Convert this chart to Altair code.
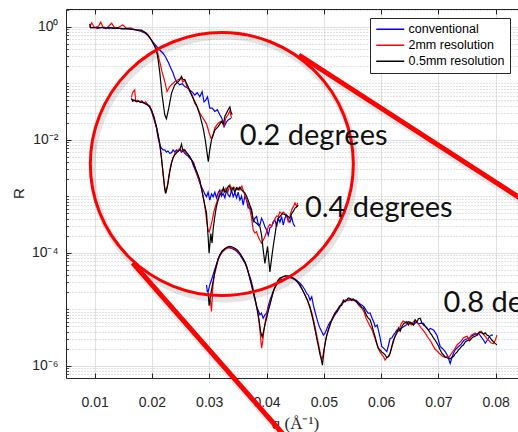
import altair as alt
import pandas as pd

SERIES = ["conventional", "2mm resolution", "0.5mm resolution"]
COLORS = ["#0000ff", "#ff0000", "#000000"]

# (q [1/A], log10 R)
conv_02 = [(0.00913,-0.01),(0.00965,-0.02),(0.01035,-0.01),(0.01105,-0.02),(0.01175,-0.01),(0.01245,-0.03),(0.01315,-0.02),(0.01385,-0.03),(0.01455,-0.03),(0.01524,-0.04),(0.01594,-0.04),(0.01664,-0.05),(0.01734,-0.06),(0.01804,-0.08),(0.01874,-0.11),(0.01932,-0.16),(0.01991,-0.24),(0.02049,-0.31),(0.02107,-0.38),(0.02154,-0.43),(0.02194,-0.47),(0.02241,-0.54),(0.02281,-0.62),(0.02329,-0.73),(0.02369,-0.82),(0.02399,-0.91),(0.02428,-0.97),(0.02486,-1.03),(0.02530,-1.01),(0.02573,-1.06),(0.02617,-1.08),(0.02661,-1.12),(0.02705,-1.16),(0.02748,-1.21),(0.02792,-1.17),(0.02836,-1.24),(0.02876,-1.15),(0.02911,-1.33),(0.02941,-1.30),(0.02970,-1.24),(0.03010,-1.44),(0.03054,-1.44),(0.03098,-1.50),(0.03142,-1.47),(0.03185,-1.56),(0.03220,-1.62),(0.03260,-1.77),(0.03299,-1.69),(0.03330,-1.65),(0.03378,-1.62)]
res2_02 = [(0.00913,-0.01),(0.00948,0.07),(0.01000,-0.02),(0.01070,0.01),(0.01105,0.08),(0.01157,-0.03),(0.01227,-0.01),(0.01297,0.06),(0.01350,-0.02),(0.01420,-0.01),(0.01490,0.03),(0.01559,-0.03),(0.01629,-0.02),(0.01699,-0.05),(0.01769,-0.06),(0.01839,-0.08),(0.01904,-0.11),(0.01962,-0.19),(0.02019,-0.29),(0.02079,-0.38),(0.02136,-0.62),(0.02177,-0.80),(0.02224,-0.97),(0.02264,-1.15),(0.02311,-1.06),(0.02369,-1.00),(0.02416,-0.96),(0.02456,-0.94),(0.02516,-0.91),(0.02538,-0.98),(0.02573,-0.94),(0.02608,-1.05),(0.02661,-1.15),(0.02705,-1.21),(0.02748,-1.36),(0.02792,-1.42),(0.02836,-1.53),(0.02893,-1.62),(0.02953,-1.72),(0.02993,-1.86),(0.03028,-1.97),(0.03063,-1.94),(0.03098,-1.79),(0.03156,-1.71),(0.03215,-1.67),(0.03255,-1.76),(0.03290,-1.62),(0.03330,-1.56),(0.03360,-1.49),(0.03390,-1.62)]
res05_02 = [(0.00913,0.05),(0.00930,-0.02),(0.00983,-0.01),(0.01052,-0.03),(0.01122,-0.01),(0.01192,-0.03),(0.01262,-0.01),(0.01332,-0.03),(0.01402,-0.02),(0.01472,-0.04),(0.01542,-0.03),(0.01612,-0.04),(0.01682,-0.05),(0.01752,-0.06),(0.01816,-0.06),(0.01874,-0.10),(0.01932,-0.15),(0.01991,-0.235),(0.02049,-0.35),(0.02096,-0.50),(0.02136,-0.80),(0.02177,-1.21),(0.02224,-1.56),(0.02253,-1.63),(0.02294,-1.44),(0.02341,-1.18),(0.02399,-1.03),(0.02451,-0.98),(0.02486,-0.94),(0.02516,-0.88),(0.02538,-0.93),(0.02573,-0.94),(0.02631,-1.06),(0.02691,-1.21),(0.02778,-1.39),(0.02836,-1.56),(0.02893,-1.79),(0.02932,-2.01),(0.02967,-2.27),(0.02984,-2.39),(0.03010,-2.18),(0.03040,-2.00),(0.03098,-1.83),(0.03156,-1.77),(0.03215,-1.68),(0.03247,-1.72),(0.03273,-1.59),(0.03330,-1.47),(0.03360,-1.42),(0.03378,-1.50),(0.03400,-1.56)]

conv_04 = [(0.01642,-1.28),(0.01682,-1.30),(0.01717,-1.32),(0.01752,-1.31),(0.01787,-1.33),(0.01822,-1.34),(0.01857,-1.35),(0.01892,-1.37),(0.01927,-1.39),(0.01962,-1.42),(0.01997,-1.51),(0.02031,-1.62),(0.02079,-1.79),(0.02107,-1.97),(0.02136,-2.09),(0.02166,-2.15),(0.02194,-2.18),(0.02224,-2.18),(0.02253,-2.22),(0.02281,-2.20),(0.02311,-2.24),(0.02341,-2.23),(0.02369,-2.18),(0.02399,-2.22),(0.02428,-2.18),(0.02456,-2.20),(0.02486,-2.18),(0.02516,-2.22),(0.02544,-2.20),(0.02573,-2.24),(0.02603,-2.27),(0.02631,-2.29),(0.02661,-2.33),(0.02691,-2.36),(0.02719,-2.45),(0.02748,-2.52),(0.02778,-2.60),(0.02806,-2.68),(0.02836,-2.77),(0.02866,-2.84),(0.02893,-2.89),(0.02923,-2.96),(0.02953,-3.01),(0.02981,-2.93),(0.03010,-3.07),(0.03040,-2.96),(0.03068,-3.01),(0.03098,-2.93),(0.03127,-3.03),(0.03156,-2.94),(0.03185,-2.89),(0.03215,-3.00),(0.03243,-2.95),(0.03273,-3.03),(0.03303,-2.89),(0.03330,-2.98),(0.03360,-3.01),(0.03390,-2.89),(0.03418,-3.01),(0.03448,-2.94),(0.03477,-3.03),(0.03505,-2.93),(0.03535,-3.07),(0.03565,-3.00),(0.03593,-3.16),(0.03622,-3.00),(0.03652,-3.07),(0.03680,-3.21),(0.03710,-3.19),(0.03740,-3.28),(0.03768,-3.45),(0.03797,-3.39),(0.03827,-3.36),(0.03855,-3.49),(0.03885,-3.51),(0.03914,-3.39),(0.03942,-3.45),(0.03972,-3.54),(0.04002,-3.60),(0.04031,-3.69),(0.04059,-3.56),(0.04089,-3.54),(0.04117,-3.45),(0.04147,-3.42),(0.04177,-3.54),(0.04205,-3.39),(0.04234,-3.46),(0.04264,-3.36),(0.04292,-3.51),(0.04322,-3.39),(0.04351,-3.33),(0.04379,-3.42),(0.04409,-3.46),(0.04439,-3.37),(0.04467,-3.49),(0.04497,-3.54)]
res2_04 = [(0.01642,-1.25),(0.01664,-1.16),(0.01699,-1.12),(0.01717,-1.32),(0.01752,-1.30),(0.01787,-1.33),(0.01822,-1.31),(0.01857,-1.35),(0.01892,-1.33),(0.01927,-1.38),(0.01962,-1.40),(0.01997,-1.49),(0.02031,-1.60),(0.02079,-1.78),(0.02107,-1.90),(0.02136,-2.08),(0.02166,-2.32),(0.02194,-2.57),(0.02224,-2.86),(0.02246,-2.93),(0.02271,-2.82),(0.02294,-2.64),(0.02329,-2.45),(0.02364,-2.33),(0.02399,-2.25),(0.02442,-2.20),(0.02486,-2.16),(0.02521,-2.20),(0.02556,-2.18),(0.02591,-2.24),(0.02626,-2.25),(0.02661,-2.31),(0.02696,-2.36),(0.02731,-2.41),(0.02766,-2.55),(0.02801,-2.64),(0.02836,-2.75),(0.02871,-2.89),(0.02906,-3.07),(0.02932,-3.24),(0.02958,-3.46),(0.02981,-3.60),(0.03002,-3.63),(0.03028,-3.53),(0.03054,-3.42),(0.03080,-3.28),(0.03115,-3.16),(0.03150,-3.05),(0.03185,-2.94),(0.03220,-2.89),(0.03255,-2.91),(0.03290,-2.86),(0.03325,-2.93),(0.03360,-2.80),(0.03395,-2.87),(0.03430,-2.84),(0.03465,-2.89),(0.03500,-2.85),(0.03535,-2.89),(0.03570,-2.82),(0.03605,-2.93),(0.03631,-3.01),(0.03657,-3.07),(0.03683,-3.14),(0.03710,-3.24),(0.03740,-3.39),(0.03768,-3.60),(0.03797,-3.65),(0.03827,-3.63),(0.03855,-3.72),(0.03885,-3.78),(0.03914,-3.83),(0.03942,-3.78),(0.03972,-3.72),(0.04002,-3.63),(0.04031,-3.54),(0.04059,-3.50),(0.04089,-3.53),(0.04117,-3.48),(0.04147,-3.40),(0.04177,-3.35),(0.04205,-3.36),(0.04234,-3.28),(0.04264,-3.31),(0.04292,-3.28),(0.04322,-3.31),(0.04351,-3.35),(0.04379,-3.45),(0.04409,-3.35),(0.04439,-3.24),(0.04467,-3.19),(0.04497,-3.12),(0.04526,-3.19),(0.04544,-3.12)]
res05_04 = [(0.01642,-1.27),(0.01664,-1.32),(0.01699,-1.30),(0.01734,-1.33),(0.01769,-1.32),(0.01804,-1.34),(0.01839,-1.33),(0.01874,-1.36),(0.01909,-1.37),(0.01944,-1.40),(0.01991,-1.47),(0.02031,-1.58),(0.02079,-1.77),(0.02107,-1.92),(0.02136,-2.06),(0.02166,-2.32),(0.02194,-2.60),(0.02215,-2.80),(0.02236,-2.95),(0.02259,-2.87),(0.02281,-2.77),(0.02311,-2.57),(0.02341,-2.42),(0.02369,-2.32),(0.02399,-2.27),(0.02442,-2.22),(0.02486,-2.18),(0.02516,-2.08),(0.02538,-2.18),(0.02573,-2.18),(0.02617,-2.24),(0.02661,-2.30),(0.02705,-2.38),(0.02748,-2.48),(0.02792,-2.59),(0.02836,-2.71),(0.02893,-3.01),(0.02923,-3.16),(0.02953,-3.30),(0.02981,-3.72),(0.02998,-4.01),(0.03028,-3.66),(0.03050,-3.83),(0.03071,-3.56),(0.03098,-3.36),(0.03124,-3.19),(0.03156,-3.07),(0.03185,-2.98),(0.03215,-2.95),(0.03247,-2.85),(0.03273,-2.93),(0.03303,-2.89),(0.03334,-2.82),(0.03360,-2.83),(0.03386,-2.91),(0.03418,-2.85),(0.03448,-2.93),(0.03477,-2.85),(0.03505,-2.89),(0.03535,-2.84),(0.03565,-2.89),(0.03593,-2.92),(0.03622,-2.94),(0.03652,-3.00),(0.03680,-3.07),(0.03710,-3.16),(0.03740,-3.24),(0.03768,-3.42),(0.03797,-3.46),(0.03827,-3.48),(0.03855,-3.51),(0.03885,-3.54),(0.03914,-3.69),(0.03942,-3.95),(0.03972,-4.19),(0.03995,-4.04),(0.04019,-3.89),(0.04042,-4.16),(0.04059,-4.34),(0.04089,-4.10),(0.04117,-3.89),(0.04147,-3.69),(0.04177,-3.48),(0.04205,-3.39),(0.04234,-3.36),(0.04278,-3.31),(0.04322,-3.33),(0.04365,-3.35),(0.04409,-3.39),(0.04439,-3.31),(0.04467,-3.27),(0.04497,-3.21),(0.04526,-3.19),(0.04554,-3.16)]

conv_08 = [(0.02953,-4.57),(0.02967,-4.69),(0.02981,-4.69),(0.03010,-4.57),(0.03040,-4.48),(0.03068,-4.39),(0.03098,-4.29),(0.03127,-4.20),(0.03156,-4.11),(0.03185,-4.04),(0.03229,-3.97),(0.03273,-3.93),(0.03317,-3.91),(0.03360,-3.91),(0.03404,-3.93),(0.03448,-3.95),(0.03491,-3.99),(0.03535,-4.04),(0.03579,-4.11),(0.03622,-4.18),(0.03657,-4.27),(0.03692,-4.38),(0.03727,-4.48),(0.03762,-4.62),(0.03797,-4.81),(0.03827,-4.96),(0.03850,-5.01),(0.03885,-5.10),(0.03911,-5.07),(0.03942,-5.16),(0.03972,-5.10),(0.04002,-5.07),(0.04031,-4.94),(0.04059,-4.84),(0.04094,-4.75),(0.04129,-4.66),(0.04164,-4.59),(0.04199,-4.52),(0.04234,-4.48),(0.04278,-4.47),(0.04322,-4.46),(0.04365,-4.45),(0.04409,-4.44),(0.04453,-4.46),(0.04497,-4.47),(0.04541,-4.50),(0.04584,-4.54),(0.04628,-4.59),(0.04672,-4.66),(0.04707,-4.73),(0.04730,-4.75),(0.04760,-4.84),(0.04790,-4.78),(0.04818,-4.93),(0.04848,-5.05),(0.04877,-5.16),(0.04906,-5.26),(0.04935,-5.34),(0.04965,-5.40),(0.04993,-5.46),(0.05023,-5.42),(0.05052,-5.35),(0.05080,-5.28),(0.05108,-5.23),(0.05146,-5.19),(0.05181,-5.12),(0.05216,-5.07),(0.05251,-5.02),(0.05283,-4.96),(0.05318,-4.91),(0.05353,-4.87),(0.05388,-4.85),(0.05423,-4.84),(0.05458,-4.84),(0.05493,-4.82),(0.05528,-4.85),(0.05563,-4.84),(0.05598,-4.87),(0.05633,-4.91),(0.05668,-4.93),(0.05703,-4.96),(0.05738,-5.02),(0.05773,-5.07),(0.05808,-5.07),(0.05843,-5.16),(0.05878,-5.24),(0.05896,-5.31),(0.05931,-5.28),(0.05953,-5.37),(0.05983,-5.51),(0.06012,-5.66),(0.06044,-5.69),(0.06100,-5.75),(0.06131,-5.63),(0.06157,-5.52),(0.06187,-5.51),(0.06215,-5.46),(0.06245,-5.42),(0.06274,-5.37),(0.06302,-5.39),(0.06332,-5.35),(0.06390,-5.31),(0.06437,-5.28),(0.06477,-5.22),(0.06507,-5.24),(0.06565,-5.28),(0.06612,-5.23),(0.06652,-5.26),(0.06682,-5.25),(0.06740,-5.25),(0.06769,-5.30),(0.06827,-5.37),(0.06857,-5.34),(0.06915,-5.37),(0.06944,-5.41),(0.06974,-5.46),(0.07002,-5.55),(0.07031,-5.66),(0.07075,-5.70),(0.07119,-5.75),(0.07163,-5.83),(0.07206,-5.96),(0.07236,-5.86),(0.07264,-5.78),(0.07294,-5.72),(0.07352,-5.66),(0.07399,-5.62),(0.07439,-5.56),(0.07486,-5.53),(0.07527,-5.52),(0.07573,-5.48),(0.07614,-5.46),(0.07661,-5.44),(0.07702,-5.43),(0.07748,-5.49),(0.07789,-5.55),(0.07819,-5.60),(0.07853,-5.55),(0.07888,-5.49),(0.07923,-5.46),(0.07953,-5.46)]
res2_08 = [(0.03019,-4.84),(0.03040,-5.04),(0.03054,-4.77),(0.03068,-4.54),(0.03098,-4.36),(0.03127,-4.24),(0.03156,-4.13),(0.03185,-4.06),(0.03229,-3.99),(0.03273,-3.95),(0.03317,-3.92),(0.03360,-3.91),(0.03404,-3.92),(0.03448,-3.93),(0.03491,-3.97),(0.03535,-4.02),(0.03579,-4.09),(0.03622,-4.17),(0.03652,-4.24),(0.03680,-4.34),(0.03710,-4.47),(0.03740,-4.59),(0.03768,-4.71),(0.03797,-4.82),(0.03827,-4.96),(0.03855,-5.12),(0.03885,-5.37),(0.03914,-5.69),(0.03937,-5.55),(0.03960,-5.33),(0.03990,-5.16),(0.04024,-5.02),(0.04059,-4.91),(0.04094,-4.78),(0.04129,-4.66),(0.04164,-4.57),(0.04199,-4.50),(0.04234,-4.47),(0.04278,-4.43),(0.04322,-4.42),(0.04365,-4.43),(0.04409,-4.44),(0.04453,-4.45),(0.04497,-4.48),(0.04541,-4.52),(0.04584,-4.59),(0.04628,-4.66),(0.04672,-4.75),(0.04716,-4.84),(0.04760,-4.96),(0.04795,-5.08),(0.04830,-5.23),(0.04865,-5.40),(0.04900,-5.58),(0.04935,-5.76),(0.04962,-5.90),(0.04988,-5.81),(0.05014,-5.65),(0.05041,-5.51),(0.05076,-5.37),(0.05108,-5.28),(0.05146,-5.17),(0.05181,-5.10),(0.05216,-5.03),(0.05251,-5.00),(0.05283,-4.94),(0.05318,-4.89),(0.05353,-4.85),(0.05388,-4.83),(0.05423,-4.85),(0.05458,-4.82),(0.05493,-4.85),(0.05528,-4.84),(0.05563,-4.87),(0.05598,-4.91),(0.05633,-4.96),(0.05668,-4.99),(0.05703,-5.05),(0.05738,-5.16),(0.05773,-5.23),(0.05808,-5.30),(0.05843,-5.37),(0.05878,-5.47),(0.05913,-5.58),(0.05948,-5.69),(0.05983,-5.76),(0.06018,-5.81),(0.06052,-5.86),(0.06070,-5.90),(0.06105,-5.85),(0.06140,-5.83),(0.06175,-5.72),(0.06210,-5.60),(0.06245,-5.48),(0.06280,-5.39),(0.06315,-5.37),(0.06350,-5.26),(0.06385,-5.21),(0.06420,-5.23),(0.06455,-5.26),(0.06490,-5.23),(0.06525,-5.28),(0.06559,-5.23),(0.06594,-5.19),(0.06629,-5.23),(0.06664,-5.28),(0.06699,-5.33),(0.06734,-5.37),(0.06769,-5.42),(0.06804,-5.48),(0.06839,-5.53),(0.06874,-5.58),(0.06909,-5.65),(0.06944,-5.71),(0.06979,-5.74),(0.07014,-5.78),(0.07049,-5.81),(0.07084,-5.84),(0.07119,-5.85),(0.07154,-5.83),(0.07189,-5.85),(0.07224,-5.79),(0.07259,-5.74),(0.07294,-5.69),(0.07329,-5.63),(0.07364,-5.60),(0.07399,-5.56),(0.07434,-5.51),(0.07469,-5.49),(0.07504,-5.48),(0.07538,-5.56),(0.07573,-5.46),(0.07608,-5.44),(0.07643,-5.42),(0.07678,-5.46),(0.07713,-5.40),(0.07748,-5.39),(0.07783,-5.44),(0.07818,-5.48),(0.07853,-5.53),(0.07888,-5.56),(0.07923,-5.60),(0.07958,-5.61),(0.07993,-5.55),(0.08023,-5.46)]
res05_08 = [(0.02981,-4.70),(0.02998,-4.94),(0.03019,-4.78),(0.03040,-4.66),(0.03068,-4.51),(0.03098,-4.34),(0.03127,-4.22),(0.03156,-4.11),(0.03185,-4.04),(0.03229,-3.97),(0.03273,-3.93),(0.03317,-3.90),(0.03360,-3.89),(0.03404,-3.90),(0.03448,-3.92),(0.03491,-3.95),(0.03535,-4.01),(0.03579,-4.08),(0.03622,-4.16),(0.03652,-4.24),(0.03680,-4.34),(0.03710,-4.45),(0.03740,-4.57),(0.03768,-4.70),(0.03797,-4.81),(0.03827,-4.94),(0.03855,-5.10),(0.03876,-5.23),(0.03897,-5.40),(0.03925,-5.49),(0.03942,-5.42),(0.03960,-5.34),(0.03981,-5.24),(0.04002,-5.16),(0.04031,-5.03),(0.04059,-4.93),(0.04089,-4.80),(0.04117,-4.69),(0.04147,-4.61),(0.04177,-4.54),(0.04205,-4.48),(0.04234,-4.45),(0.04278,-4.43),(0.04322,-4.41),(0.04365,-4.41),(0.04409,-4.42),(0.04453,-4.44),(0.04497,-4.47),(0.04541,-4.52),(0.04584,-4.57),(0.04628,-4.66),(0.04672,-4.75),(0.04716,-4.85),(0.04760,-4.98),(0.04790,-5.10),(0.04818,-5.22),(0.04848,-5.37),(0.04877,-5.52),(0.04900,-5.63),(0.04918,-5.72),(0.04935,-5.81),(0.04953,-5.87),(0.04976,-5.99),(0.04993,-5.83),(0.05010,-5.69),(0.05031,-5.56),(0.05052,-5.46),(0.05080,-5.37),(0.05108,-5.28),(0.05138,-5.19),(0.05166,-5.13),(0.05196,-5.07),(0.05226,-5.04),(0.05254,-4.98),(0.05283,-4.94),(0.05313,-4.93),(0.05341,-4.84),(0.05371,-4.87),(0.05400,-4.84),(0.05428,-4.80),(0.05458,-4.81),(0.05488,-4.84),(0.05516,-4.82),(0.05546,-4.85),(0.05575,-4.87),(0.05603,-4.91),(0.05633,-4.93),(0.05663,-4.97),(0.05691,-4.98),(0.05721,-5.05),(0.05750,-5.12),(0.05778,-5.16),(0.05808,-5.19),(0.05838,-5.28),(0.05866,-5.39),(0.05896,-5.49),(0.05925,-5.60),(0.05953,-5.69),(0.05983,-5.72),(0.06012,-5.76),(0.06040,-5.78),(0.06070,-5.81),(0.06100,-5.86),(0.06128,-5.84),(0.06157,-5.78),(0.06187,-5.66),(0.06215,-5.55),(0.06245,-5.48),(0.06274,-5.43),(0.06302,-5.33),(0.06332,-5.39),(0.06362,-5.31),(0.06390,-5.26),(0.06420,-5.24),(0.06449,-5.22),(0.06477,-5.28),(0.06507,-5.23),(0.06537,-5.25),(0.06565,-5.28),(0.06594,-5.19),(0.06624,-5.23),(0.06652,-5.17),(0.06682,-5.16),(0.06712,-5.24),(0.06740,-5.28),(0.06769,-5.30),(0.06799,-5.33),(0.06827,-5.37),(0.06857,-5.42),(0.06886,-5.46),(0.06914,-5.51),(0.06944,-5.55),(0.06974,-5.60),(0.07002,-5.65),(0.07031,-5.72),(0.07061,-5.78),(0.07089,-5.81),(0.07119,-5.85),(0.07149,-5.86),(0.07177,-5.87),(0.07206,-5.88),(0.07236,-5.85),(0.07264,-5.84),(0.07294,-5.79),(0.07324,-5.76),(0.07352,-5.72),(0.07381,-5.69),(0.07411,-5.65),(0.07439,-5.63),(0.07469,-5.58),(0.07499,-5.56),(0.07527,-5.55),(0.07556,-5.55),(0.07586,-5.51),(0.07614,-5.49),(0.07644,-5.48),(0.07674,-5.46),(0.07702,-5.42),(0.07731,-5.41),(0.07761,-5.42),(0.07789,-5.44),(0.07819,-5.42),(0.07849,-5.46),(0.07877,-5.47),(0.07906,-5.51),(0.07936,-5.55),(0.07964,-5.58),(0.07994,-5.61),(0.08023,-5.63)]

# annotations (data coordinates)
label_text = ["0.2 degrees", "0.4 degrees", "0.8 degrees"]
label_q = [0.03535, 0.04671, 0.07090]
label_R = [8.05e-3, 4.34e-4, 9.04e-6]
circle_q, circle_R = [0.0322], [3.71e-3]
arrow_q = [0.04566, 0.01664]
arrow_R = [0.3155, 6.58e-5]
arrow_q2 = [0.0878, 0.04409]
arrow_R2 = [5.43e-4, 4.47e-8]

X_TICKS = [0.01, 0.02, 0.03, 0.04, 0.05, 0.06, 0.07, 0.08]
Y_MAJOR = [1e-6, 1e-4, 1e-2, 1.0]
Y_LO, Y_HI = 6.05e-7, 2.056
Y_MINOR = [m * 10.0 ** k for k in range(-7, 1) for m in range(1, 10)
           if not (m == 1 and k in (0, -2, -4, -6)) and Y_LO <= m * 10.0 ** k <= Y_HI]

rows = []
for name, seg, pts in [
    (SERIES[0], "0.2", conv_02), (SERIES[0], "0.4", conv_04), (SERIES[0], "0.8", conv_08),
    (SERIES[1], "0.2", res2_02), (SERIES[1], "0.4", res2_04), (SERIES[1], "0.8", res2_08),
    (SERIES[2], "0.2", res05_02), (SERIES[2], "0.4", res05_04), (SERIES[2], "0.8", res05_08),
]:
    for q, lg in pts:
        rows.append({"series": name, "segment": seg, "q": q, "R": 10 ** lg})
df = pd.DataFrame(rows)

W, H = 452, 369
xs = alt.Scale(domain=[0.005, 0.0839], nice=False, zero=False)
ys = alt.Scale(type="log", domain=[Y_LO, Y_HI], nice=False)
INK = "#262626"
FONT = "Liberation Sans"

one = pd.DataFrame({"q": [0.05], "R": [1e-3]})


def axis_layer(xaxis, yaxis):
    return alt.Chart(one).mark_point(opacity=0).encode(
        x=alt.X("q:Q", scale=xs, axis=xaxis),
        y=alt.Y("R:Q", scale=ys, axis=yaxis),
    )


minor_grid = axis_layer(
    None,
    alt.Axis(orient="left", values=Y_MINOR, grid=True, gridColor="#b8b8b8", gridDash=[1, 2], gridWidth=0.8,
             labels=False, ticks=False, domain=False, title=None),
)
y_main = axis_layer(
    None,
    alt.Axis(orient="left", values=Y_MAJOR, grid=True, gridColor="#e2e2e2", gridWidth=1,
             labelExpr="datum.value > 0.5 ? '10⁰' : datum.value > 0.005 ? '10⁻²' : datum.value > 0.00005 ? '10⁻⁴' : '10⁻⁶'",
             labelFont=FONT, labelFontSize=14, labelColor=INK, labelPadding=8,
             ticks=False, domain=True, domainColor=INK, domainWidth=1,
             title="R", titleFont=FONT, titleFontSize=15, titleFontWeight="normal", titleColor=INK,
             titleX=-48, titleY=184, titleAngle=270, titleAlign="center", titleBaseline="middle"),
)
y_ticks_major = axis_layer(
    None,
    alt.Axis(orient="right", offset=-W, values=Y_MAJOR, tickSize=5, tickColor=INK, tickWidth=1,
             labels=False, domain=False, grid=False, title=None),
)
y_ticks_minor = axis_layer(
    None,
    alt.Axis(orient="right", offset=-W, values=Y_MINOR, tickSize=2.5, tickColor=INK, tickWidth=0.8,
             labels=False, domain=False, grid=False, title=None),
)
x_main = axis_layer(
    alt.Axis(orient="bottom", values=X_TICKS, grid=True, gridColor="#e2e2e2", gridWidth=1, format=".2f",
             labelFont=FONT, labelFontSize=14, labelColor=INK, labelPadding=17,
             ticks=False, tickSize=0, domain=True, domainColor=INK, domainWidth=1,
             title="q  (Å⁻¹)", titleFont="Liberation Serif", titleFontSize=17, titleFontWeight="normal",
             titleColor=INK, titleX=229, titleY=45, titleAlign="center", titleBaseline="middle"),
    None,
)
x_ticks_bottom = axis_layer(
    alt.Axis(orient="top", offset=-H, values=X_TICKS, tickSize=5, tickColor=INK, tickWidth=1,
             labels=False, domain=False, grid=False, title=None),
    None,
)
x_top_frame = axis_layer(
    alt.Axis(orient="bottom", offset=-H, values=X_TICKS, tickSize=5, tickColor=INK, tickWidth=1,
             labels=False, domain=True, domainColor=INK, domainWidth=1, grid=False, title=None),
    None,
)

color = alt.Color(
    "series:N",
    scale=alt.Scale(domain=SERIES, range=COLORS),
    legend=alt.Legend(
        orient="none", legendX=304, legendY=9, title=None,
        symbolType="M-1,0H4.6", symbolSize=100, symbolStrokeWidth=1.5,
        labelFont=FONT, labelFontSize=12.5, labelColor="#000000", labelOffset=21,
        rowPadding=3, padding=5, strokeColor=INK, fillColor="white", cornerRadius=0,
    ),
)


def series_layer(name):
    return alt.Chart(df).transform_filter(alt.datum.series == name).mark_line(strokeWidth=1.2).encode(
        x=alt.X("q:Q", scale=xs, axis=None),
        y=alt.Y("R:Q", scale=ys, axis=None),
        color=color,
        detail="segment:N",
        order="q:Q",
    )


lines = [series_layer(s) for s in SERIES]

circle_df = pd.DataFrame({"q": circle_q, "R": circle_R})
shadow = alt.Chart(circle_df).mark_point(
    shape="circle", size=69169, filled=False, stroke="#000000", strokeWidth=6, opacity=0.10,
    xOffset=2, yOffset=4,
).encode(x=alt.X("q:Q", scale=xs, axis=None), y=alt.Y("R:Q", scale=ys, axis=None))
circle = alt.Chart(circle_df).mark_point(
    shape="circle", size=69169, filled=False, stroke="#ff0000", strokeWidth=3, opacity=1,
).encode(x=alt.X("q:Q", scale=xs, axis=None), y=alt.Y("R:Q", scale=ys, axis=None))

arrow_df = pd.DataFrame({"q": arrow_q, "R": arrow_R, "q2": arrow_q2, "R2": arrow_R2})
arrows_shadow = alt.Chart(arrow_df).mark_rule(
    stroke="#000000", strokeWidth=7, opacity=0.08, xOffset=2, yOffset=4, x2Offset=2, y2Offset=4,
).encode(
    x=alt.X("q:Q", scale=xs, axis=None), y=alt.Y("R:Q", scale=ys, axis=None),
    x2="q2:Q", y2="R2:Q",
)
arrows = alt.Chart(arrow_df).mark_rule(stroke="#ff0000", strokeWidth=5).encode(
    x=alt.X("q:Q", scale=xs, axis=None), y=alt.Y("R:Q", scale=ys, axis=None),
    x2="q2:Q", y2="R2:Q",
)

label_df = pd.DataFrame({"text": label_text, "q": label_q, "R": label_R})
labels = alt.Chart(label_df).mark_text(
    font="Lato", fontSize=29, align="left", baseline="alphabetic", color="#111111",
).encode(
    x=alt.X("q:Q", scale=xs, axis=None), y=alt.Y("R:Q", scale=ys, axis=None), text="text:N",
)

chart = alt.layer(
    minor_grid, y_main, x_main, y_ticks_major, y_ticks_minor, x_ticks_bottom, x_top_frame,
    *lines, shadow, arrows_shadow, circle, arrows, labels,
).resolve_axis(x="independent", y="independent").properties(
    width=W, height=H,
    autosize=alt.AutoSizeParams(type="none"),
    padding={"left": 66, "top": 9, "right": 0, "bottom": 54},
    background="white",
).configure_view(stroke=None)

chart.save("out.html", embed_options={"renderer": "svg", "actions": False})
